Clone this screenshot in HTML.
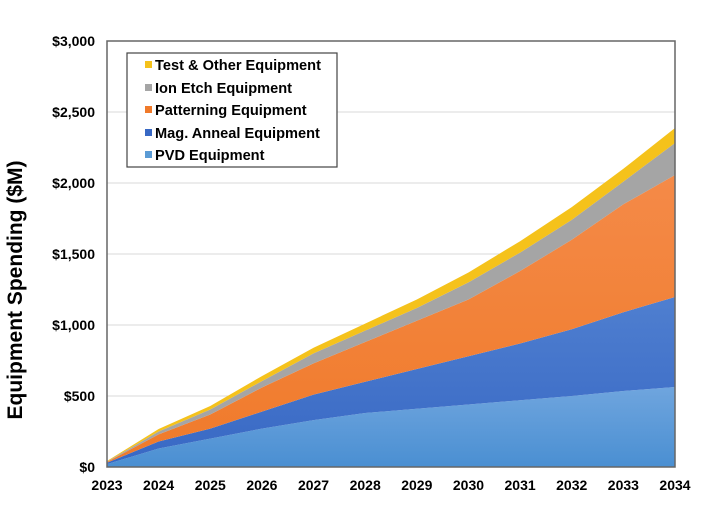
<!DOCTYPE html><html><head><meta charset="utf-8"><style>
body{margin:0;background:#fff;width:710px;height:520px;overflow:hidden;font-family:"Liberation Sans",Arial,sans-serif}
</style></head><body>
<svg id="s" width="710" height="520" xmlns="http://www.w3.org/2000/svg" font-family="Liberation Sans, Arial, sans-serif" font-weight="bold">
<defs>
<linearGradient id="g0" x1="0" y1="0" x2="0" y2="1"><stop offset="0" stop-color="#6fa5de"/><stop offset="1" stop-color="#4a8fd2"/></linearGradient>
<linearGradient id="g1" x1="0" y1="0" x2="0" y2="1"><stop offset="0" stop-color="#4f7fd0"/><stop offset="1" stop-color="#3868c4"/></linearGradient>
<linearGradient id="g2" x1="0" y1="0" x2="0" y2="1"><stop offset="0" stop-color="#f48a48"/><stop offset="1" stop-color="#f07a2a"/></linearGradient>
</defs>
<g id="grid"></g>
<g id="areas"></g>
<rect x="107" y="41" width="568" height="426" fill="none" stroke="#666" stroke-width="1.5"/>
<g id="labels" font-size="14" fill="#000"></g>
<text transform="translate(22,290) rotate(-90)" text-anchor="middle" font-size="21">Equipment Spending ($M)</text>
<rect x="127" y="53" width="210" height="114" fill="#fff" stroke="#444" stroke-width="1.2"/>
<g font-size="14.6">
<rect x="145" y="61" width="7" height="7" fill="#f5c21b"/><text x="155" y="70">Test &amp; Other Equipment</text>
<rect x="145" y="84" width="7" height="7" fill="#a5a5a5"/><text x="155" y="93">Ion Etch Equipment</text>
<rect x="145" y="106" width="7" height="7" fill="#f07a2a"/><text x="155" y="115">Patterning Equipment</text>
<rect x="145" y="129" width="7" height="7" fill="#3868c4"/><text x="155" y="138">Mag. Anneal Equipment</text>
<rect x="145" y="151" width="7" height="7" fill="#5b9bd5"/><text x="155" y="160">PVD Equipment</text>
</g>
</svg>
<script>
var X=function(i){return 107+i*568/11},Y=function(v){return 467-v*0.142};
var S=[[0,0,0,0,0,0,0,0,0,0,0,0],
[20,130,200,270,330,380,410,440,470,500,535,563],
[30,180,270,390,510,600,690,780,870,970,1090,1197],
[35,230,370,560,730,880,1030,1180,1380,1600,1850,2056],
[38,250,405,605,800,960,1120,1300,1510,1740,2010,2282],
[42,268,430,640,840,1010,1180,1370,1590,1830,2100,2387]];
var F=["url(#g0)","url(#g1)","url(#g2)","#a5a5a5","#f5c21b"];
var h="";
for(var k=1;k<6;k++){var p=[];for(var i=0;i<12;i++)p.push(X(i)+","+Y(S[k][i]));for(var i=11;i>=0;i--)p.push(X(i)+","+Y(S[k-1][i]));h+='<polygon points="'+p.join(" ")+'" fill="'+F[k-1]+'"/>';}
document.getElementById("areas").innerHTML=h;
var g="",l="";
for(var v=500;v<=2500;v+=500)g+='<line x1="107" x2="675" y1="'+Y(v)+'" y2="'+Y(v)+'" stroke="#d9d9d9"/>';
document.getElementById("grid").innerHTML=g;
var t=["$0","$500","$1,000","$1,500","$2,000","$2,500","$3,000"];
for(var j=0;j<7;j++)l+='<text x="95" y="'+(Y(j*500)+5)+'" text-anchor="end">'+t[j]+'</text>';
for(var i=0;i<12;i++)l+='<text x="'+X(i)+'" y="490" text-anchor="middle">'+(2023+i)+'</text>';
document.getElementById("labels").innerHTML=l;
</script>
</body></html>
